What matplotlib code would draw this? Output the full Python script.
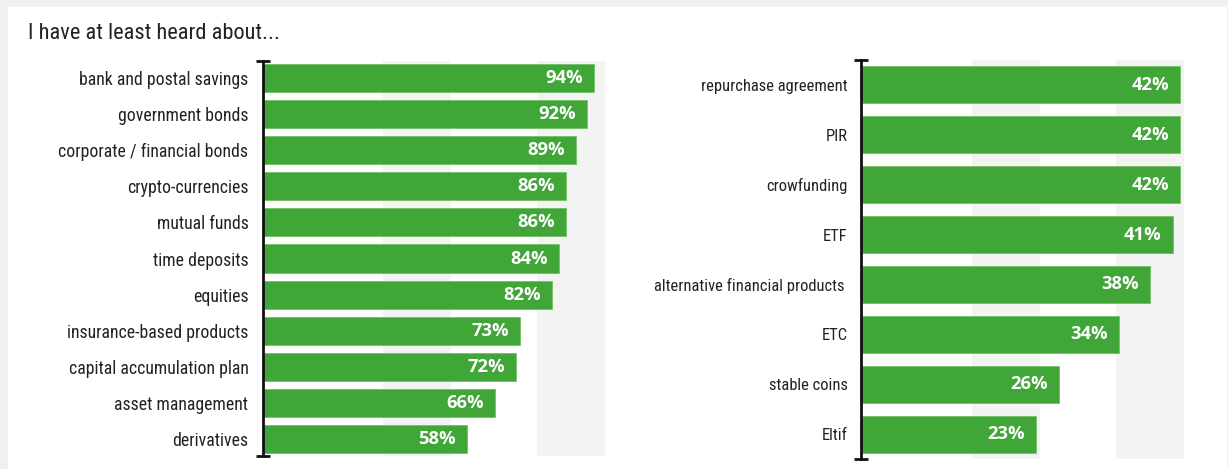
import matplotlib
matplotlib.use("Agg")
import matplotlib.pyplot as plt
from matplotlib.patches import Rectangle
from matplotlib import font_manager as fm

# ---- data ----
title = "I have at least heard about..."
left_categories = ["bank and postal savings", "government bonds", "corporate / financial bonds",
                   "crypto-currencies", "mutual funds", "time deposits", "equities",
                   "insurance-based products", "capital accumulation plan",
                   "asset management", "derivatives"]
left_values = [94, 92, 89, 86, 86, 84, 82, 73, 72, 66, 58]
right_categories = ["repurchase agreement", "PIR", "crowfunding", "ETF",
                    "alternative financial products ", "ETC", "stable coins", "Eltif"]
right_values = [42, 42, 42, 41, 38, 34, 26, 23]

# ---- style ----
W, H = 1228, 469
DPI = 100
BAR = "#3fa637"
BAND = "#f3f3f3"
TEXT = "#222222"

names = {f.name for f in fm.fontManager.ttflist}
if "Liberation Sans Narrow" in names:
    LABEL_KW = dict(family=["Liberation Sans Narrow", "DejaVu Sans"])
elif "Roboto Condensed" in names:
    LABEL_KW = dict(family=["Roboto Condensed", "DejaVu Sans"])
elif any("DejaVuSansCondensed" in f.fname for f in fm.fontManager.ttflist):
    LABEL_KW = dict(family=["DejaVu Sans"], fontstretch="condensed")
else:
    LABEL_KW = dict(family=["DejaVu Sans"])
VALUE_FONT = ["Open Sans", "DejaVu Sans"]

fig = plt.figure(figsize=(W / DPI, H / DPI), dpi=DPI)
fig.patch.set_facecolor("#f0f0f0")
# white card
card = Rectangle((8 / W, 0), (1227 - 8) / W, (H - 7) / H,
                 transform=fig.transFigure, facecolor="white",
                 edgecolor="none", zorder=-10)
fig.patches.append(card)

fig.text(28 / W, 1 - 39 / H, title, fontsize=16.1,
         color=TEXT, va="baseline", ha="left", **LABEL_KW)


def px_axes(x0, x1, y_top, y_bot):
    return fig.add_axes([x0 / W, 1 - y_bot / H, (x1 - x0) / W, (y_bot - y_top) / H])


def draw_panel(ax, cats, vals, xmax, ylim, bands, height, label_pad, label_size):
    n = len(cats)
    ax.set_facecolor("none")
    ax.set_xlim(0, xmax)
    ax.set_ylim(*ylim)
    for b0, b1 in bands:
        ax.axvspan(b0, b1, color=BAND, zorder=0, lw=0)
    y = list(range(n))
    ax.barh(y, vals, height=height, color=BAR, edgecolor="#72c066",
            linewidth=0.6, zorder=2)
    for yi, v in zip(y, vals):
        ax.annotate(f"{v}%", xy=(v, yi), xytext=(-11, 0),
                    textcoords="offset pixels", ha="right", va="center",
                    color="white", fontweight="bold", family=VALUE_FONT,
                    fontsize=13.2, zorder=3)
    ax.set_yticks(y)
    ax.set_yticklabels(cats, fontsize=label_size, color=TEXT, **LABEL_KW)
    ax.tick_params(axis="y", length=0, pad=label_pad)
    ax.set_xticks([])
    for s in ["top", "right", "bottom"]:
        ax.spines[s].set_visible(False)
    ax.spines["left"].set_linewidth(2)
    ax.spines["left"].set_color("#111111")
    ax.spines["left"].set_zorder(4)
    # end caps of the axis line
    ax.plot([0, 0], list(ylim), linestyle="none", marker="_", markersize=10,
            markeredgewidth=2, color="#111111", clip_on=False, zorder=5)


axL = px_axes(263, 615, 61, 456)
draw_panel(axL, left_categories, left_values, 100, (10.47, -0.47),
           [(34.0, 53.4), (77.8, 97.1)], 0.78, 10.5, 12.8)

axR = px_axes(861, 1203, 60, 459)
draw_panel(axR, right_categories, right_values, 45, (7.5, -0.5),
           [(14.6, 23.5), (33.6, 42.5)], 0.74, 9.5, 11.9)

fig.savefig("out.png", dpi=DPI, facecolor=fig.get_facecolor())
